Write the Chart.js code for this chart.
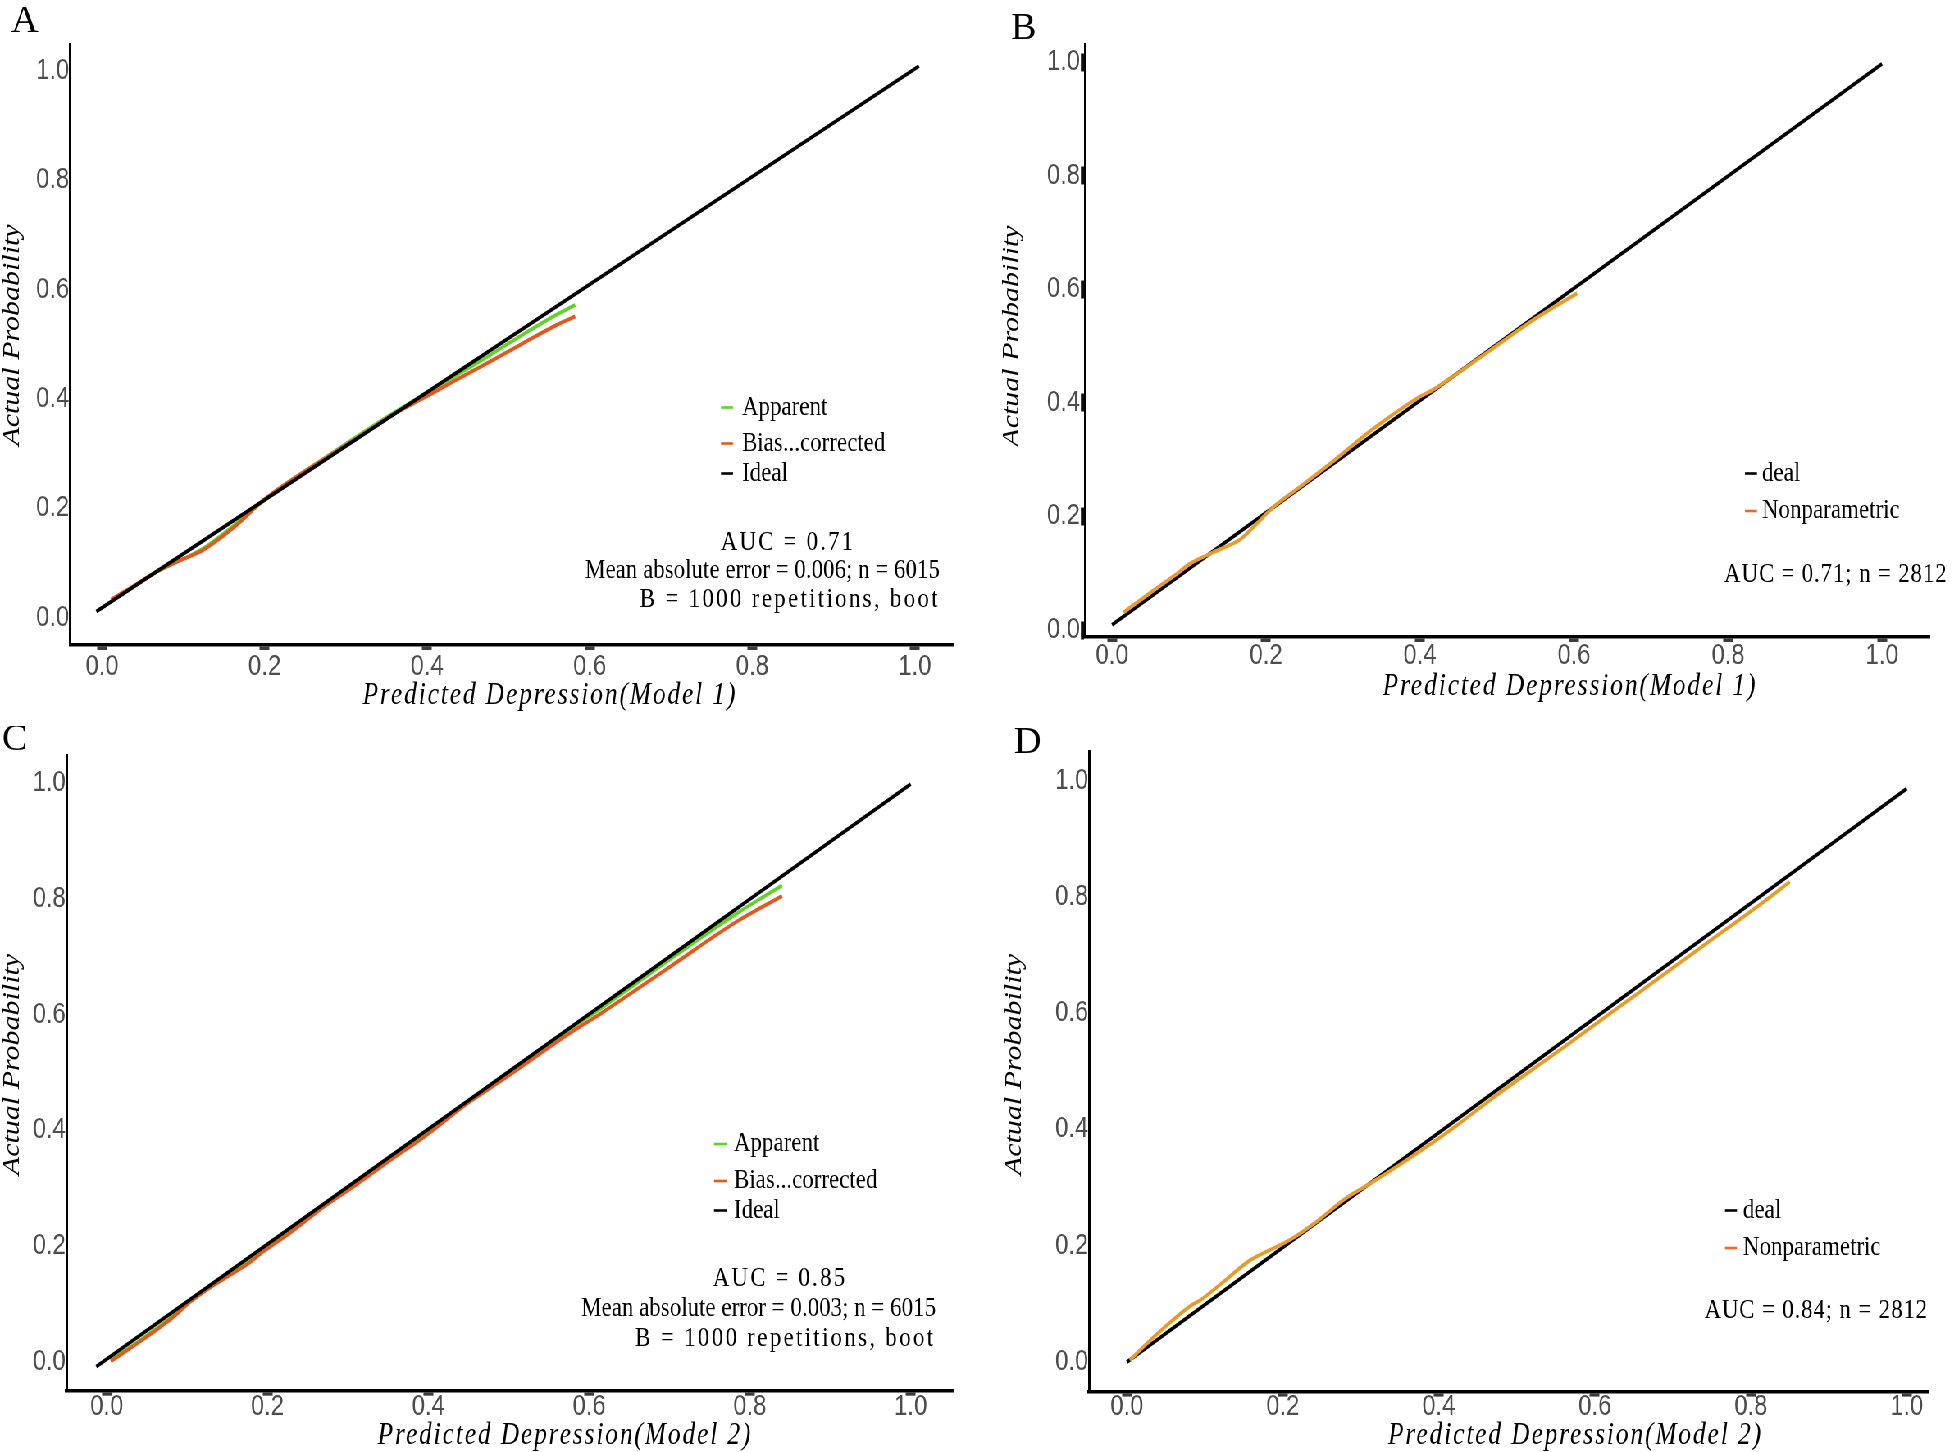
<!DOCTYPE html>
<html>
<head>
<meta charset="utf-8">
<title>Calibration curves</title>
<script src="https://cdn.jsdelivr.net/npm/chart.js@4.4.1/dist/chart.umd.min.js"></script>
<style>
  html, body { margin: 0; padding: 0; background: #fff; overflow: hidden; }
  body { width: 1952px; height: 1452px; position: relative; }
  /* the published figure is squeezed sideways, so the whole sheet is too */
  #sheet { position: absolute; left: 0; top: 0; width: 2381px; height: 1452px;
           transform: scaleX(0.82); transform-origin: 0 0; }
  #sheet canvas { position: absolute; }
</style>
</head>
<body>
<div id="sheet">
  <canvas id="panelA"></canvas>
  <canvas id="panelB"></canvas>
  <canvas id="panelC"></canvas>
  <canvas id="panelD"></canvas>
</div>
<script>
const S = 0.82;

const xTicks = [0, 0.2, 0.4, 0.6, 0.8, 1.0];
const yTicks = [0, 0.2, 0.4, 0.6, 0.8, 1.0];

// A - model 1, bootstrap validation
const aIdealX = [-0.007, 1.005];
const aIdealY = [0.011, 1.009];
const aApparentX = [0.022, 0.067, 0.125, 0.170, 0.215, 0.272, 0.354, 0.395, 0.436, 0.477, 0.518, 0.559, 0.582];
const aApparentY = [0.041, 0.083, 0.127, 0.178, 0.233, 0.290, 0.370, 0.407, 0.443, 0.480, 0.518, 0.554, 0.572];
const aBiasX = [0.011, 0.034, 0.067, 0.092, 0.125, 0.145, 0.170, 0.194, 0.215, 0.272, 0.334, 0.362, 0.395, 0.436, 0.477, 0.518, 0.559, 0.582];
const aBiasY = [0.033, 0.053, 0.084, 0.102, 0.124, 0.145, 0.175, 0.209, 0.233, 0.289, 0.348, 0.375, 0.401, 0.435, 0.468, 0.502, 0.535, 0.551];

// B - model 1, nonparametric
const bIdealX = [0, 1.0];
const bIdealY = [0.009, 0.997];
const bNonparX = [0.015, 0.049, 0.088, 0.099, 0.119, 0.140, 0.166, 0.184, 0.210, 0.244, 0.287, 0.331, 0.352, 0.396, 0.417, 0.461, 0.504, 0.547, 0.604];
const bNonparY = [0.031, 0.065, 0.103, 0.115, 0.129, 0.142, 0.159, 0.182, 0.217, 0.252, 0.297, 0.346, 0.367, 0.408, 0.423, 0.464, 0.505, 0.546, 0.593];

// C - model 2, bootstrap validation
const cIdealX = [-0.013, 1.0];
const cIdealY = [-0.008, 0.998];
const cApparentX = [0.005, 0.041, 0.083, 0.104, 0.129, 0.153, 0.174, 0.195, 0.228, 0.269, 0.311, 0.352, 0.394, 0.452, 0.493, 0.576, 0.618, 0.701, 0.784, 0.840];
const cApparentY = [0.003, 0.037, 0.080, 0.105, 0.131, 0.153, 0.171, 0.193, 0.226, 0.269, 0.309, 0.350, 0.391, 0.451, 0.492, 0.575, 0.614, 0.696, 0.775, 0.823];
const cBiasX = [0.005, 0.041, 0.083, 0.104, 0.129, 0.153, 0.174, 0.195, 0.228, 0.269, 0.311, 0.352, 0.394, 0.452, 0.493, 0.576, 0.618, 0.701, 0.784, 0.840];
const cBiasY = [0.001, 0.035, 0.078, 0.104, 0.129, 0.150, 0.168, 0.191, 0.223, 0.267, 0.307, 0.348, 0.388, 0.450, 0.488, 0.568, 0.605, 0.683, 0.761, 0.805];

// D - model 2, nonparametric
const dIdealX = [0, 1.0];
const dIdealY = [0, 0.986];
const dNonparX = [0.004, 0.021, 0.047, 0.077, 0.098, 0.124, 0.158, 0.184, 0.209, 0.243, 0.278, 0.312, 0.346, 0.384, 0.427, 0.466, 0.564, 0.649, 0.735, 0.820, 0.850];
const dNonparY = [0.003, 0.026, 0.058, 0.092, 0.110, 0.138, 0.175, 0.193, 0.210, 0.241, 0.279, 0.307, 0.336, 0.370, 0.411, 0.451, 0.545, 0.628, 0.712, 0.795, 0.826];

const green = '#62d12a';
const red = '#e8561f';
const gold = '#e99b27';
const redDash = '#f0682b';

const serif = '"Liberation Serif", "Times New Roman", serif';
const sans = '"Liberation Sans", Arial, sans-serif';

function pts(xs, ys) {
  return xs.map((x, i) => ({x: x, y: ys[i]}));
}

const panels = [
  {
    id: 'panelA', left: 0, top: 0, width: 1190, height: 726,
    area: {l: 70, r: 953, t: 44, b: 645},
    xRange: [-0.0394, 1.0468], yRange: [-0.0503, 1.0494],
    xLabelY: 667, yTickMarks: false,
    series: [
      {xs: aIdealX, ys: aIdealY, color: '#000'},
      {xs: aBiasX, ys: aBiasY, color: red},
      {xs: aApparentX, ys: aApparentY, color: green}
    ],
    letter: {text: 'A', x: 11, y: 32},
    xTitle: {text: 'Predicted Depression(Model 1)', x: 550, y: 695.5},
    yTitle: {text: 'Actual Probability', x: 12.5, y: 335},
    legend: {dash: [721, 733], textX: 742, items: [
      ['Apparent', green, 407.5], ['Bias...corrected', red, 443.5], ['Ideal', '#000', 473.5]]},
    notes: [
      {text: 'AUC = 0.71', x: 788, y: 543, align: 'center', spacing: 2.6},
      {text: 'Mean absolute error = 0.006; n = 6015', x: 940, y: 571, align: 'right', spacing: 0},
      {text: 'B = 1000 repetitions, boot', x: 940, y: 599.5, align: 'right', spacing: 2.8}
    ]
  },
  {
    id: 'panelB', left: 1190, top: 0, width: 1191, height: 726,
    area: {l: 1085, r: 1930, t: 44, b: 637},
    xRange: [-0.0351, 1.0623], yRange: [-0.0123, 1.032],
    xLabelY: 655.5, yTickMarks: true,
    series: [
      {xs: bNonparX, ys: bNonparY, color: gold},
      {xs: bIdealX, ys: bIdealY, color: '#000'}
    ],
    letter: {text: 'B', x: 1011, y: 39},
    xTitle: {text: 'Predicted Depression(Model 1)', x: 1570, y: 687},
    yTitle: {text: 'Actual Probability', x: 1012, y: 336},
    legend: {dash: [1745, 1757], textX: 1762, items: [
      ['deal', '#000', 473.5], ['Nonparametric', redDash, 511]]},
    notes: [
      {text: 'AUC = 0.71; n = 2812', x: 1724, y: 574.5, align: 'left', spacing: 1}
    ]
  },
  {
    id: 'panelC', left: 0, top: 726, width: 1190, height: 726,
    area: {l: 66.6, r: 953, t: 755, b: 1390.7},
    xRange: [-0.0499, 1.0526], yRange: [-0.0496, 1.0484],
    xLabelY: 1407, yTickMarks: false,
    series: [
      {xs: cIdealX, ys: cIdealY, color: '#000'},
      {xs: cBiasX, ys: cBiasY, color: red},
      {xs: cApparentX, ys: cApparentY, color: green}
    ],
    letter: {text: 'C', x: 2, y: 750},
    xTitle: {text: 'Predicted Depression(Model 2)', x: 565, y: 1436},
    yTitle: {text: 'Actual Probability', x: 12.5, y: 1064.5},
    legend: {dash: [714, 727], textX: 734, items: [
      ['Apparent', green, 1144], ['Bias...corrected', red, 1181], ['Ideal', '#000', 1210.5]]},
    notes: [
      {text: 'AUC = 0.85', x: 780, y: 1279, align: 'center', spacing: 2.6},
      {text: 'Mean absolute error = 0.003; n = 6015', x: 936, y: 1309, align: 'right', spacing: 0},
      {text: 'B = 1000 repetitions, boot', x: 935.5, y: 1338.5, align: 'right', spacing: 2.8}
    ]
  },
  {
    id: 'panelD', left: 1190, top: 726, width: 1191, height: 726,
    area: {l: 1089, r: 1929, t: 751.7, b: 1391.6},
    xRange: [-0.0485, 1.0285], yRange: [-0.0509, 1.0497],
    xLabelY: 1407, yTickMarks: false,
    series: [
      {xs: dNonparX, ys: dNonparY, color: gold},
      {xs: dIdealX, ys: dIdealY, color: '#000'}
    ],
    letter: {text: 'D', x: 1014, y: 752.6},
    xTitle: {text: 'Predicted Depression(Model 2)', x: 1575.5, y: 1436},
    yTitle: {text: 'Actual Probability', x: 1014.7, y: 1064.5},
    legend: {dash: [1725, 1737], textX: 1743, items: [
      ['deal', '#000', 1210.5], ['Nonparametric', redDash, 1248]]},
    notes: [
      {text: 'AUC = 0.84; n = 2812', x: 1704.5, y: 1310.5, align: 'left', spacing: 1}
    ]
  }
];

// texts that rms/ggplot put around the panel, drawn in page coordinates
function notesPlugin(p) {
  const cx = X => X / S - p.left;
  const cy = Y => Y - p.top;
  function text(ctx, t, x, y, font, align, spacing) {
    ctx.font = font;
    ctx.textAlign = align;
    ctx.letterSpacing = (spacing || 0) + 'px';
    ctx.fillText(t, x, y);
  }
  return {
    id: 'notes',
    afterDraw(chart) {
      const ctx = chart.ctx;
      ctx.save();
      ctx.fillStyle = '#000';
      ctx.textBaseline = 'middle';

      // legend
      p.legend.items.forEach(([label, color, y]) => {
        ctx.strokeStyle = color;
        ctx.lineWidth = 2.6;
        ctx.beginPath();
        ctx.moveTo(cx(p.legend.dash[0]), cy(y));
        ctx.lineTo(cx(p.legend.dash[1]), cy(y));
        ctx.stroke();
        text(ctx, label, cx(p.legend.textX), cy(y), '28px ' + serif, 'left', 0);
      });

      p.notes.forEach(n => {
        text(ctx, n.text, cx(n.x), cy(n.y), '28px ' + serif, n.align, n.spacing);
      });

      // axis titles
      text(ctx, p.xTitle.text, cx(p.xTitle.x), cy(p.xTitle.y), 'italic 31px ' + serif, 'center', 2.3);
      ctx.save();
      ctx.translate(cx(p.yTitle.x), cy(p.yTitle.y));
      ctx.rotate(-Math.PI / 2);
      text(ctx, p.yTitle.text, 0, 0, 'italic 30px ' + serif, 'center', 0);
      ctx.restore();

      // panel letter is not squeezed
      ctx.save();
      ctx.translate(cx(p.letter.x), cy(p.letter.y));
      ctx.scale(1 / S, 1);
      ctx.textBaseline = 'alphabetic';
      text(ctx, p.letter.text, 0, 0, '38px ' + serif, 'left', 0);
      ctx.restore();

      ctx.restore();
    }
  };
}

panels.forEach(p => {
  const canvas = document.getElementById(p.id);
  canvas.width = p.width;
  canvas.height = p.height;
  canvas.style.left = p.left + 'px';
  canvas.style.top = p.top + 'px';
  canvas.style.width = p.width + 'px';
  canvas.style.height = p.height + 'px';

  const yAxisWidth = p.area.l / S - p.left;
  const rightPad = p.left + p.width - p.area.r / S;
  const topPad = p.area.t - p.top;
  const xAxisHeight = p.top + p.height - p.area.b;
  const xTickLen = 5;

  new Chart(canvas, {
    type: 'line',
    data: {
      datasets: p.series.map(s => ({
        data: pts(s.xs, s.ys),
        borderColor: s.color,
        borderWidth: 3.8,
        pointRadius: 0,
        fill: false,
        cubicInterpolationMode: 'monotone'
      }))
    },
    options: {
      responsive: false,
      animation: false,
      devicePixelRatio: 1,
      layout: {padding: {left: 0, top: topPad, right: rightPad, bottom: 0}},
      plugins: {legend: {display: false}, tooltip: {enabled: false}},
      scales: {
        x: {
          type: 'linear',
          min: p.xRange[0],
          max: p.xRange[1],
          afterBuildTicks: s => { s.ticks = xTicks.map(v => ({value: v})); },
          afterFit: s => { s.height = xAxisHeight; s.paddingLeft = 0; s.paddingRight = 0; },
          grid: {drawOnChartArea: false, drawTicks: true, tickLength: xTickLen, tickWidth: 12, tickColor: '#3c3c3c'},
          border: {display: true, color: '#000', width: 3.5},
          ticks: {
            autoSkip: false, maxRotation: 0,
            padding: p.xLabelY - p.area.b - xTickLen - 17.4,
            color: '#4d4d4d',
            font: {family: sans, size: 29},
            callback: v => v.toFixed(1)
          }
        },
        y: {
          type: 'linear',
          min: p.yRange[0],
          max: p.yRange[1],
          afterBuildTicks: s => { s.ticks = yTicks.map(v => ({value: v})); },
          afterFit: s => { s.width = yAxisWidth; s.paddingTop = 0; s.paddingBottom = 0; },
          grid: {drawOnChartArea: false, drawTicks: p.yTickMarks, tickLength: 5, tickWidth: 18, tickColor: '#111'},
          border: {display: true, color: '#000', width: 3},
          ticks: {
            padding: 1,
            color: '#4d4d4d',
            font: {family: sans, size: 29},
            callback: v => v.toFixed(1)
          }
        }
      }
    },
    plugins: [notesPlugin(p)]
  });
});
</script>
</body>
</html>
